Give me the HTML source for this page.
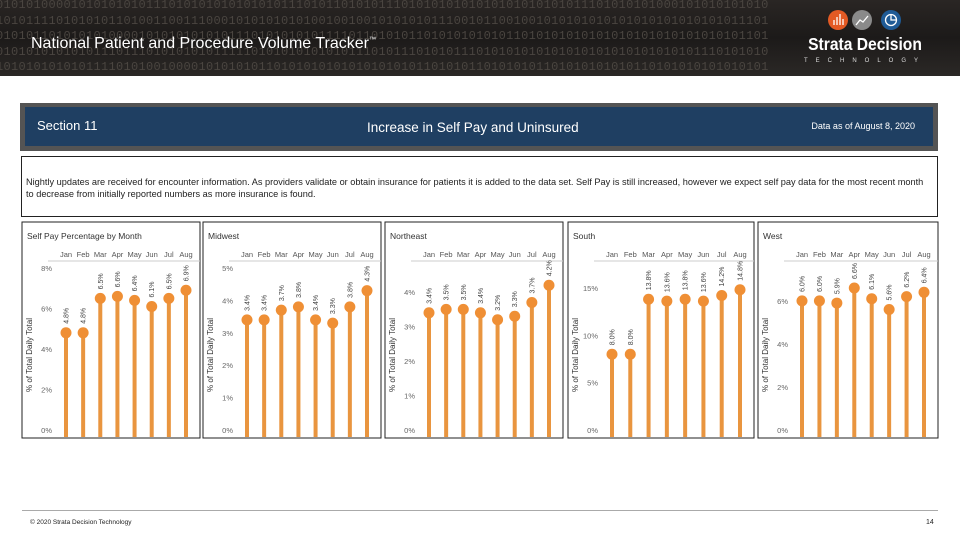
<!DOCTYPE html>
<html><head><meta charset="utf-8"><style>
body{margin:0;width:960px;height:540px;background:#fff;font-family:"Liberation Sans",sans-serif;position:relative;overflow:hidden}
#hdr{position:absolute;left:0;top:0;width:960px;height:76px;background:linear-gradient(#2a2624,#1c1a19 50%,#2b2826);overflow:hidden}
#bin{position:absolute;left:-4px;top:-2px;font:12px/15.5px "Liberation Mono",monospace;color:#4a4540;white-space:pre;letter-spacing:0.3px}
</style></head><body>
<div id="hdr">
<div id="bin">0101010000101010101011101010101010101011101011010101110101010101010101010101011101010101000101010101010
1010111101010101101001100111000101010101010010010010101010111001011001001010101010101010101010101011101
0101011010101010000101010101010111010101010111101101010110101010101011010101010101010101010101010101101
0101010101010111011101010101011111010101010101011101011101010111010101010101010101010101010101110101010
1010101010101111010100100001010101011010101010101010101011010101101010101101010101010110101010101010101
1100001011010101011101010101011011101011011101001100111000101010101010010010010010101010111001011001010</div>
<div style="position:absolute;left:31px;top:35px;color:#fff;font-size:16px">National Patient and Procedure Volume Tracker<sup style="font-size:7px">™</sup></div>
<svg style="position:absolute;left:790px;top:0" width="170" height="76">
<circle cx="48" cy="20" r="10" fill="#e35a24"/><circle cx="72" cy="20" r="10" fill="#8a8a8a"/><circle cx="101" cy="20" r="10" fill="#1f5b96"/>
<path d="M44 25v-5M47 25v-8M50 25v-11M53 25v-6" stroke="#fff" stroke-width="1.3"/>
<path d="M66 25l4-5 3 2 5-6" stroke="#fff" fill="none" stroke-width="1.3"/>
<circle cx="101" cy="20" r="5.5" fill="none" stroke="#fff" stroke-width="1.3"/><path d="M101 14.5v5.5h5.5" stroke="#fff" fill="none" stroke-width="1.3"/>
<text x="0" y="0" text-anchor="middle" fill="#fff" font-size="17" font-weight="600" transform="translate(75,50) scale(0.92,1.05)">Strata Decision</text>
<text x="75" y="62" text-anchor="middle" fill="#ddd" font-size="6" letter-spacing="8">TECHNOLOGY</text>
</svg>
</div>
<div style="position:absolute;left:20px;top:103px;width:918px;height:48px;background:#545454">
<div style="position:absolute;left:5px;top:4px;width:908px;height:39px;background:#1f3f62;color:#fff">
<span style="position:absolute;left:12px;top:11px;font-size:13px">Section 11</span>
<span style="position:absolute;left:342px;top:13px;font-size:13.5px">Increase in Self Pay and Uninsured</span>
<span style="position:absolute;right:18px;top:14px;font-size:9px">Data as of August 8, 2020</span>
</div></div>
<div style="position:absolute;left:21px;top:156px;width:915px;height:59px;border:1px solid #222;font-size:9.2px;line-height:12px;color:#222;overflow:hidden">
<div style="position:absolute;left:4px;top:19px;width:1000px;white-space:nowrap">Nightly updates are received for encounter information. As providers validate or obtain insurance for patients it is added to the data set. Self Pay is still increased, however we expect self pay data for the most recent month<br>to decrease from initially reported numbers as more insurance is found.</div></div>
<svg id="charts" width="960" height="540" style="position:absolute;left:0;top:0"></svg>
<div style="position:absolute;left:22px;top:510px;width:916px;height:1px;background:#aaa"></div>
<div style="position:absolute;left:30px;top:519px;font-size:6.5px;color:#222">© 2020 Strata Decision Technology</div>
<div style="position:absolute;left:926px;top:519px;font-size:7px;color:#222">14</div>
<script>
const months=["Jan","Feb","Mar","Apr","May","Jun","Jul","Aug"];
const titles=["Self Pay Percentage by Month","Midwest","Northeast","South","West"];
const valsTotal=[4.8,4.8,6.5,6.6,6.4,6.1,6.5,6.9];
const valsMidwest=[3.4,3.4,3.7,3.8,3.4,3.3,3.8,4.3];
const valsNortheast=[3.4,3.5,3.5,3.4,3.2,3.3,3.7,4.2];
const valsSouth=[8.0,8.0,13.8,13.6,13.8,13.6,14.2,14.8];
const valsWest=[6.0,6.0,5.9,6.6,6.1,5.6,6.2,6.4];
const ticksTotal=[0,2,4,6,8];
const ticksMidwest=[0,1,2,3,4,5];
const ticksNortheast=[0,1,2,3,4];
const ticksSouth=[0,5,10,15];
const ticksWest=[0,2,4,6];
const domainMax=[8,5,4.7,17.1,7.53];
const series=[valsTotal,valsMidwest,valsNortheast,valsSouth,valsWest];
const tickSets=[ticksTotal,ticksMidwest,ticksNortheast,ticksSouth,ticksWest];
const boxes=[[22,200],[203,381],[385,563],[568,754],[758,938]];
const NS="http://www.w3.org/2000/svg";
const svg=document.getElementById('charts');
function mk(tag,attrs,parent){const e=document.createElementNS(NS,tag);for(const k in attrs)e.setAttribute(k,attrs[k]);(parent||svg).appendChild(e);return e;}
const Y0=430,YT=268;
series.forEach((vals,p)=>{
  const [L,R]=boxes[p];
  const g=mk('g',{});
  
  
  const box=mk('rect',{x:L,y:222,width:R-L,height:216,fill:'#fff',stroke:'#222','stroke-width':1},g);
  
  
  const t=mk('text',{x:L+5,y:239,'font-size':8.5,fill:'#333'},g);t.textContent=titles[p];
  
  
  const x0=L+44,x1=R-14,step=(x1-x0)/7;
  const xs=i=>x0+i*step;
  const ys=v=>Y0-v/domainMax[p]*(Y0-YT);
  const sep=mk('line',{x1:L+26,x2:R,y1:261,y2:261,stroke:'#ccc'},g);
  
  
  months.forEach((m,i)=>{const e=mk('text',{x:xs(i),y:257,'font-size':7.5,fill:'#555','text-anchor':'middle'},g);e.textContent=m;
    
    });
  tickSets[p].forEach(v=>{const e=mk('text',{x:L+30,y:ys(v)+3,'font-size':7.5,fill:'#666','text-anchor':'end'},g);e.textContent=v+'%';
    
    });
  const at=mk('text',{x:0,y:0,'font-size':8,fill:'#333','text-anchor':'middle',transform:`translate(${L+10},${(Y0+YT)/2+6}) rotate(-90)`},g);at.textContent='% of Total Daily Total';
  
  
  vals.forEach((v,i)=>{
    const st=mk('line',{x1:xs(i),x2:xs(i),y1:Y0+7,y2:ys(v),stroke:'#e9953f','stroke-width':4},g);
    
    
    const c=mk('circle',{cx:xs(i),cy:ys(v),r:5.5,fill:'#ef8f35'},g);
    
    
    const lb=mk('text',{x:0,y:0,'font-size':7,fill:'#444',transform:`translate(${xs(i)+2.5},${ys(v)-9}) rotate(-90)`},g);lb.textContent=v.toFixed(1)+'%';
    
    
  });
});
</script>
</body></html>
